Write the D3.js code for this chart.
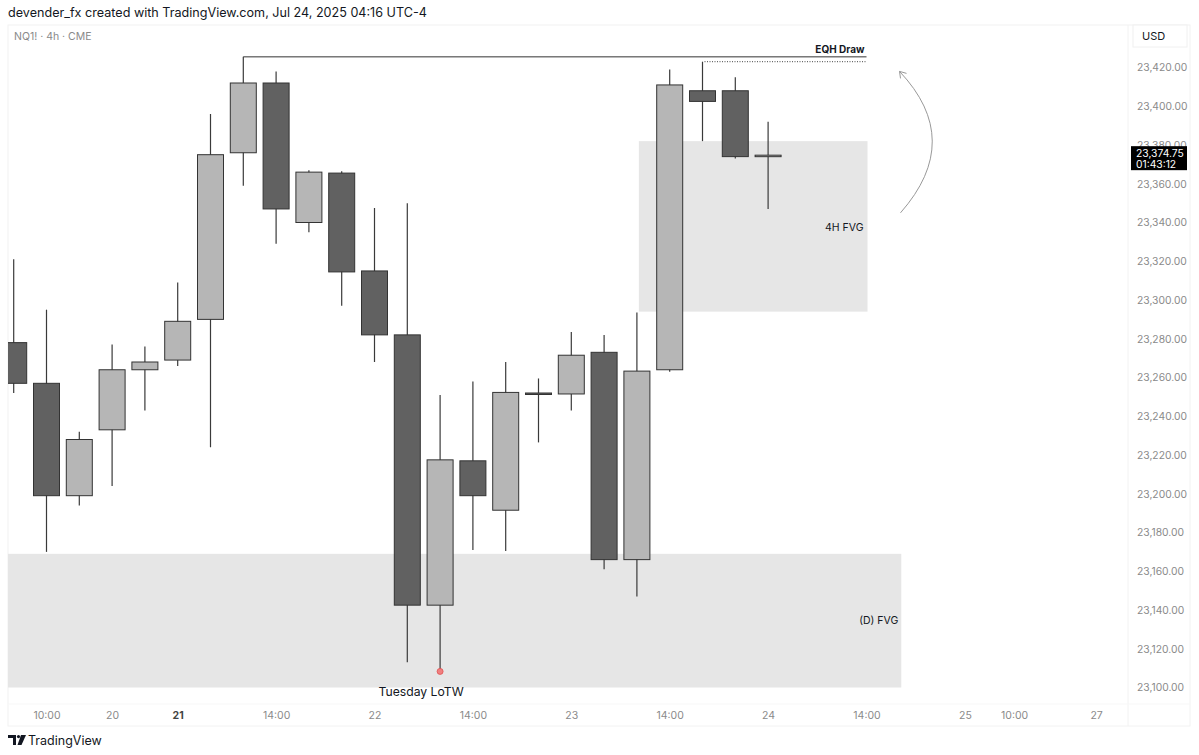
<!DOCTYPE html>
<html>
<head>
<meta charset="utf-8">
<script src="https://cdn.jsdelivr.net/npm/d3@7"></script>
<style>
  html, body { margin: 0; padding: 0; background: #fff; }
  svg { display: block; font-family: Inter, "Noto Sans", Roboto, sans-serif; }
</style>
</head>
<body>
<svg id="chart" width="1199" height="755"></svg>
<script>
// ---- data ----
const barIndex = d3.range(1, 25);
const barTimes = ["07-18 06:00","07-18 10:00","07-18 14:00","07-20 18:00","07-20 22:00","07-21 02:00",
  "07-21 06:00","07-21 10:00","07-21 14:00","07-21 18:00","07-21 22:00","07-22 02:00",
  "07-22 06:00","07-22 10:00","07-22 14:00","07-22 18:00","07-22 22:00","07-23 02:00",
  "07-23 06:00","07-23 10:00","07-23 14:00","07-23 18:00","07-23 22:00","07-24 02:00"];
const opens  = [23278,23257,23199,23233,23264,23269,23290,23376,23412,23340,23365.5,23315,
                23282,23142.5,23217,23191.5,23252,23251.5,23273,23166,23264,23408,23408,23374];
const highs  = [23321,23295,23232,23277,23276,23309,23396,23425.5,23418,23367,23366.5,23347.5,
                23350,23251,23258,23268,23259.5,23283.5,23282,23293.5,23419,23423,23415,23392];
const lows   = [23252,23170,23194,23204,23243,23266,23224,23359,23329,23335,23297,23268,
                23113,23108.3,23171,23170.5,23226.5,23243,23161,23147,23263,23382,23373,23347];
const closes = [23257,23199,23228,23264,23268,23289,23375,23412,23347,23366,23314.5,23282,
                23142.5,23217.5,23199,23252.3,23251.25,23271.5,23166,23263.3,23411,23402.5,23374,23374.75];

const priceTicks = d3.range(23100, 23421, 20);
const timeTickPos = [2, 4, 6, 9, 12, 15, 18, 21, 24, 27, 30, 31.5, 34];
const timeTickLabels = ["10:00","20","21","14:00","22","14:00","23","14:00","24","14:00","25","10:00","27"];
const boldTimeTicks = ["21"];

const lastPrice = 23374.75;
const countdown = "01:43:12";
const eqhLevel = 23425.5;     // EQH solid line
const eqhDotLevel = 23423;    // dotted line
const fvg4h = {top: 23382, bottom: 23294, from: 20.06, to: 27};
const fvgD  = {top: 23169, bottom: 23100, from: 0, to: 28};
const lowBar = 14;

// ---- layout ----
const svg = d3.select("#chart");
const paneL = 8, paneR = 1128, paneT = 25, paneB = 704;

const x = d3.scaleLinear().domain([1, 24]).range([13.7, 768.1]);
const y = d3.scaleLinear().domain([23100, 23420]).range([687.5, 67.5]);
const bw = 26;

// header
svg.append("text").attr("x", 8).attr("y", 17).attr("font-size", 12.6).attr("fill", "#131722")
  .text("devender_fx created with TradingView.com, Jul 24, 2025 04:16 UTC-4");

// pane frame
svg.append("rect").attr("x", paneL).attr("y", paneT).attr("width", 1190 - paneL).attr("height", 726 - paneT)
  .attr("fill", "none").attr("stroke", "#f2f2f2");
svg.append("line").attr("x1", paneR).attr("x2", paneR).attr("y1", paneT).attr("y2", 726).attr("stroke", "#f2f2f2");
svg.append("line").attr("x1", paneL).attr("x2", 1190).attr("y1", paneB).attr("y2", paneB).attr("stroke", "#f7f7f7");

svg.append("defs").append("clipPath").attr("id", "pane")
  .append("rect").attr("x", paneL).attr("y", paneT).attr("width", paneR - paneL).attr("height", paneB - paneT);

const g = svg.append("g").attr("clip-path", "url(#pane)");

// FVG zones
g.append("rect").attr("x", Math.max(paneL, x(fvgD.from))).attr("y", y(fvgD.top))
  .attr("width", x(fvgD.to) + 2 - Math.max(paneL, x(fvgD.from))).attr("height", y(fvgD.bottom) - y(fvgD.top))
  .attr("fill", "#e6e6e6");
g.append("rect").attr("x", x(fvg4h.from)).attr("y", y(fvg4h.top))
  .attr("width", x(fvg4h.to) + 1 - x(fvg4h.from)).attr("height", y(fvg4h.bottom) - y(fvg4h.top))
  .attr("fill", "#e6e6e6");

// candles
const candles = barIndex.map((i, k) => ({i, t: barTimes[k], o: opens[k], h: highs[k], l: lows[k], c: closes[k]}));
const cg = g.selectAll("g.c").data(candles).join("g");
cg.append("line").attr("x1", d => x(d.i)).attr("x2", d => x(d.i))
  .attr("y1", d => y(d.h)).attr("y2", d => y(d.l))
  .attr("stroke", "#3a3a3a").attr("stroke-width", 1.2);
cg.append("rect")
  .attr("x", d => x(d.i) - bw / 2)
  .attr("y", d => y(Math.max(d.o, d.c)))
  .attr("width", bw)
  .attr("height", d => Math.max(1.5, Math.abs(y(d.o) - y(d.c))))
  .attr("fill", d => d.c >= d.o ? "#b6b6b6" : "#616161")
  .attr("stroke", "#333").attr("stroke-width", 1);

// EQH lines
g.append("line").attr("x1", x(8)).attr("x2", x(fvg4h.to)).attr("y1", y(eqhLevel)).attr("y2", y(eqhLevel))
  .attr("stroke", "#333").attr("stroke-width", 1);
g.append("line").attr("x1", x(22) + 2).attr("x2", x(fvg4h.to)).attr("y1", y(eqhDotLevel)).attr("y2", y(eqhDotLevel))
  .attr("stroke", "#444").attr("stroke-width", 1).attr("stroke-dasharray", "1,1.5");
svg.append("text").attr("x", x(fvg4h.to) - 2).attr("y", y(eqhLevel) - 4).attr("text-anchor", "end")
  .attr("font-size", 10).attr("font-weight", "bold").attr("fill", "#131722").text("EQH Draw");

// zone labels
svg.append("text").attr("x", x(fvg4h.to) - 3).attr("y", y(23340) + 8).attr("text-anchor", "end")
  .attr("font-size", 10.5).attr("fill", "#131722").text("4H FVG");
svg.append("text").attr("x", x(fvgD.to) - 1).attr("y", y(23135) + 4).attr("text-anchor", "end")
  .attr("font-size", 10.5).attr("fill", "#131722").text("(D) FVG");

// low marker + label
svg.append("circle").attr("cx", x(lowBar)).attr("cy", y(lows[lowBar - 1])).attr("r", 3)
  .attr("fill", "#f08080").attr("stroke", "#e05050").attr("stroke-width", 0.8);
svg.append("text").attr("x", x(lowBar) - 19).attr("y", 696).attr("text-anchor", "middle")
  .attr("font-size", 12.2).attr("fill", "#131722").text("Tuesday LoTW");

// curved arrow
const ax0 = x(27) + 34, ay0 = y(23345), ax1 = x(27) + 33, ay1 = y(23418);
svg.append("path")
  .attr("d", `M${ax0},${ay0} Q${ax0 + 64},${(ay0 + ay1) / 2 - 2} ${ax1},${ay1}`)
  .attr("fill", "none").attr("stroke", "#999").attr("stroke-width", 1);
svg.append("path")
  .attr("d", `M${ax1 + 1},${ay1 + 7} L${ax1},${ay1} L${ax1 + 7},${ay1 + 2}`)
  .attr("fill", "none").attr("stroke", "#999").attr("stroke-width", 1);

// symbol title
svg.append("text").attr("x", 14).attr("y", 40).attr("font-size", 10.5).attr("fill", "#8a8a8a")
  .text("NQ1! · 4h · CME");

// right price axis
const yAxis = d3.axisRight(y).tickValues(priceTicks).tickSize(0).tickPadding(0)
  .tickFormat(d3.format(",.2f"));
const ya = svg.append("g").attr("transform", `translate(${paneR + 9},0)`).call(yAxis);
ya.select(".domain").remove();
ya.selectAll("text").attr("font-size", 10.3).attr("fill", "#8a8a8a").attr("font-family", "Inter, 'Noto Sans', sans-serif");

// USD box
svg.append("rect").attr("x", 1133).attr("y", 25).attr("width", 54).attr("height", 22)
  .attr("fill", "#fff").attr("stroke", "#f0f0f0");
svg.append("text").attr("x", 1142).attr("y", 40).attr("font-size", 11).attr("fill", "#131722").text("USD");

// last price label (covers the lower part of the 23,380 tick as in the original)
svg.append("rect").attr("x", 1131).attr("y", y(lastPrice) - 9).attr("width", 56).attr("height", 24).attr("fill", "#000");
svg.append("text").attr("x", 1136).attr("y", y(lastPrice) + 2).attr("font-size", 10.3).attr("fill", "#fff")
  .text(d3.format(",.2f")(lastPrice));
svg.append("text").attr("x", 1136).attr("y", y(lastPrice) + 12.5).attr("font-size", 10.3).attr("fill", "#fff")
  .text(countdown);

// time axis
const xAxis = d3.axisBottom(x).tickValues(timeTickPos).tickSize(0).tickPadding(0)
  .tickFormat((d, k) => timeTickLabels[k]);
const xa = svg.append("g").attr("transform", `translate(0,712)`).call(xAxis);
xa.select(".domain").remove();
xa.selectAll("text").attr("font-size", 10.5)
  .attr("font-family", "Inter, 'Noto Sans', sans-serif")
  .attr("font-weight", (d, k) => boldTimeTicks.includes(timeTickLabels[k]) ? "bold" : "normal")
  .attr("fill", (d, k) => boldTimeTicks.includes(timeTickLabels[k]) ? "#444" : "#8a8a8a");

// TradingView logo
const logo = svg.append("g").attr("transform", "translate(8,735)").attr("fill", "#131722");
logo.append("path").attr("d", "M0,0 H8 V10 H5 V3 H0 Z");
logo.append("circle").attr("cx", 10.5).attr("cy", 1.6).attr("r", 1.6);
logo.append("path").attr("d", "M13,0 H18 L13.5,10 H9.5 Z");
svg.append("text").attr("x", 28).attr("y", 745).attr("font-size", 12.5).attr("fill", "#131722").text("TradingView");
</script>
</body>
</html>
